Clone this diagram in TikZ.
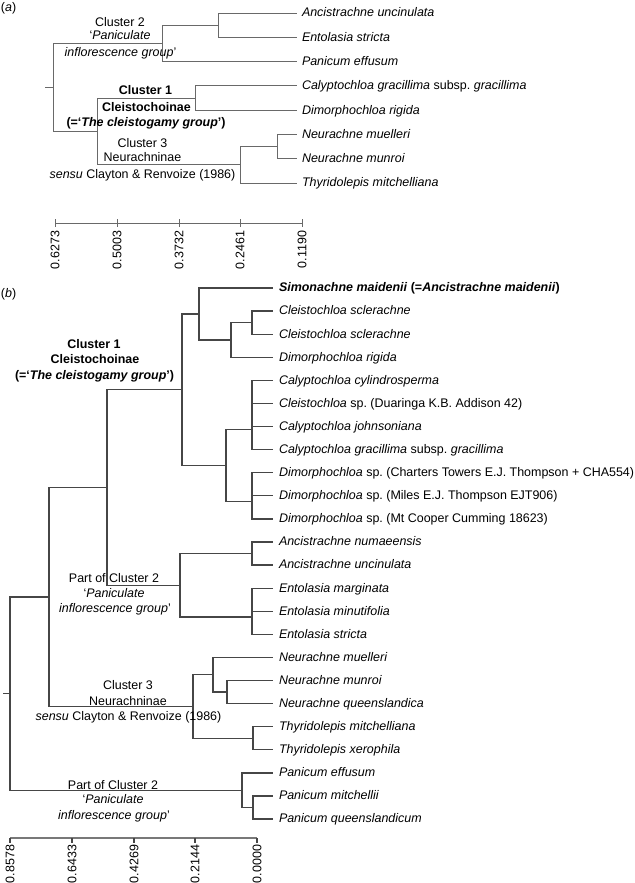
\documentclass[tikz,border=0pt]{standalone}
\usepackage{fontspec}
\setmainfont{Liberation Sans}
\definecolor{linea}{RGB}{105,105,105}
\definecolor{lineb}{RGB}{70,70,70}
\definecolor{axisb}{RGB}{120,120,120}
\begin{document}
\frenchspacing
\begin{tikzpicture}[x=0.75pt,y=-0.75pt,
  every node/.style={font=\fontsize{9.35}{11}\selectfont, inner sep=0pt, outer sep=0pt},
  leaf/.style={anchor=base west},
  lbl/.style={anchor=base},
  tick/.style={anchor=east, rotate=90},
  bra/.style={draw=linea, line width=0.75pt},
  brb/.style={draw=lineb, line width=1pt},
  axa/.style={draw=linea, line width=0.75pt},
  axb/.style={draw=axisb, line width=0.8pt},
  tkb/.style={draw=lineb, line width=0.8pt}]
\useasboundingbox (0,0) rectangle (635,883);

% ================= panel (a) =================
\node[anchor=base west] (pa) at (1,11) {(\textit{a})};

% leaf ends and labels
\coordinate (ea1) at (297,13.0);
\coordinate (ea2) at (297,37.3);
\coordinate (ea3) at (297,61.6);
\coordinate (ea4) at (297,85.9);
\coordinate (ea5) at (297,110.2);
\coordinate (ea6) at (297,134.5);
\coordinate (ea7) at (297,158.8);
\coordinate (ea8) at (297,183.1);
\node[leaf] (la1) at (302,16.8) {\textit{Ancistrachne uncinulata}};
\node[leaf] (la2) at (302,41.1) {\textit{Entolasia stricta}};
\node[leaf] (la3) at (302,65.4) {\textit{Panicum effusum}};
\node[leaf] (la4) at (302,89.7) {\textit{Calyptochloa gracillima} subsp. \textit{gracillima}};
\node[leaf] (la5) at (302,114.0) {\textit{Dimorphochloa rigida}};
\node[leaf] (la6) at (302,138.3) {\textit{Neurachne muelleri}};
\node[leaf] (la7) at (302,162.6) {\textit{Neurachne munroi}};
\node[leaf] (la8) at (302,186.9) {\textit{Thyridolepis mitchelliana}};

% internal nodes
\coordinate (aA12) at (218,25.2);
\coordinate (aC2) at (162,43.4);
\coordinate (aC1) at (195,98.0);
\coordinate (aN67) at (277,146.6);
\coordinate (aC3) at (240,164.9);
\coordinate (aC13) at (97,131.5);
\coordinate (aR) at (53,87.4);
\coordinate (aRs) at (45,87.4);

\draw[bra] (aA12) |- (ea1);
\draw[bra] (aA12) |- (ea2);
\draw[bra] (aC2) |- (aA12);
\draw[bra] (aC2) |- (ea3);
\draw[bra] (aC1) |- (ea4);
\draw[bra] (aC1) |- (ea5);
\draw[bra] (aN67) |- (ea6);
\draw[bra] (aN67) |- (ea7);
\draw[bra] (aC3) |- (aN67);
\draw[bra] (aC3) |- (ea8);
\draw[bra] (aC13) |- (aC1);
\draw[bra] (aC13) |- (aC3);
\draw[bra] (aR) |- (aC2);
\draw[bra] (aR) |- (aC13);
\draw[bra] (aRs) -- (aR);

% cluster labels (a)
\node[lbl] (a2l1) at (120,26) {Cluster 2};
\node[lbl] (a2l2) at (120,39) {‘\textit{Paniculate}};
\node[lbl] (a2l3) at (120.5,56) {\textit{inflorescence group}’};
\node[lbl] (a1l1) at (145.5,94) {\textbf{Cluster 1}};
\node[lbl] (a1l2) at (146.5,111) {\textbf{Cleistochoinae}};
\node[lbl] (a1l3) at (146,126) {\textbf{(=‘\textit{The cleistogamy group}’)}};
\node[lbl] (a3l1) at (142.5,147) {Cluster 3};
\node[lbl] (a3l2) at (142.5,161) {Neurachninae};
\node[lbl] (a3l3) at (142.5,178) {\textit{sensu} Clayton \& Renvoize (1986)};

% axis (a)
\coordinate (ax0) at (55,223);
\coordinate (ax1) at (117,223);
\coordinate (ax2) at (179,223);
\coordinate (ax3) at (240,223);
\coordinate (ax4) at (302,223);
\draw[axa] (ax0) -- (ax4);
\foreach \p in {ax0,ax1,ax2,ax3,ax4}
  \draw[axa] ([yshift=3pt]\p) -- ([yshift=-3pt]\p);
\node[tick] (ta0) at (55,231) {0.6273};
\node[tick] (ta1) at (117,231) {0.5003};
\node[tick] (ta2) at (179,231) {0.3732};
\node[tick] (ta3) at (240,231) {0.2461};
\node[tick] (ta4) at (302,231) {0.1190};

% ================= panel (b) =================
\node[anchor=base west] (pb) at (1,297) {(\textit{b})};

\foreach \i/\y in {0/288.00,1/311.09,2/334.18,3/357.27,4/380.36,5/403.45,6/426.54,7/449.63,8/472.72,9/495.81,10/518.90,11/541.99,12/565.08,13/588.17,14/611.26,15/634.35,16/657.44,17/680.53,18/703.62,19/726.71,20/749.80,21/772.89,22/795.98,23/819.07}
  \coordinate (eb\i) at (273,\y);

\node[leaf] (lb0) at (279,291.8) {\textbf{\textit{Simonachne maidenii} (=\textit{Ancistrachne maidenii})}};
\node[leaf] (lb1) at (279,314.9) {\textit{Cleistochloa sclerachne}};
\node[leaf] (lb2) at (279,338.0) {\textit{Cleistochloa sclerachne}};
\node[leaf] (lb3) at (279,361.1) {\textit{Dimorphochloa rigida}};
\node[leaf] (lb4) at (279,384.2) {\textit{Calyptochloa cylindrosperma}};
\node[leaf] (lb5) at (279,407.3) {\textit{Cleistochloa} sp. (Duaringa K.B. Addison 42)};
\node[leaf] (lb6) at (279,430.3) {\textit{Calyptochloa johnsoniana}};
\node[leaf] (lb7) at (279,453.4) {\textit{Calyptochloa gracillima} subsp. \textit{gracillima}};
\node[leaf] (lb8) at (279,476.5) {\textit{Dimorphochloa} sp. (Charters Towers E.J. Thompson + CHA554)};
\node[leaf] (lb9) at (279,499.6) {\textit{Dimorphochloa} sp. (Miles E.J. Thompson EJT906)};
\node[leaf] (lb10) at (279,522.7) {\textit{Dimorphochloa} sp. (Mt Cooper Cumming 18623)};
\node[leaf] (lb11) at (279,545.8) {\textit{Ancistrachne numaeensis}};
\node[leaf] (lb12) at (279,568.9) {\textit{Ancistrachne uncinulata}};
\node[leaf] (lb13) at (279,592.0) {\textit{Entolasia marginata}};
\node[leaf] (lb14) at (279,615.1) {\textit{Entolasia minutifolia}};
\node[leaf] (lb15) at (279,638.2) {\textit{Entolasia stricta}};
\node[leaf] (lb16) at (279,661.2) {\textit{Neurachne muelleri}};
\node[leaf] (lb17) at (279,684.3) {\textit{Neurachne munroi}};
\node[leaf] (lb18) at (279,707.4) {\textit{Neurachne queenslandica}};
\node[leaf] (lb19) at (279,730.5) {\textit{Thyridolepis mitchelliana}};
\node[leaf] (lb20) at (279,753.6) {\textit{Thyridolepis xerophila}};
\node[leaf] (lb21) at (279,776.7) {\textit{Panicum effusum}};
\node[leaf] (lb22) at (279,799.8) {\textit{Panicum mitchellii}};
\node[leaf] (lb23) at (279,822.9) {\textit{Panicum queenslandicum}};

% internal nodes (b)
\coordinate (bS12) at (252,322.63);
\coordinate (bS123) at (231,339.95);
\coordinate (bS0) at (199,313.98);
\coordinate (bP47) at (252,429.43);
\coordinate (bD810) at (252,501.58);
\coordinate (bCD) at (226,465.51);
\coordinate (bCL1) at (182,389.74);
\coordinate (bA1112) at (252,553.54);
\coordinate (bE1315) at (252,617.03);
\coordinate (bAE) at (180,585.28);
\coordinate (bX) at (107,487.51);
\coordinate (bN1718) at (227,692.08);
\coordinate (bN16) at (213,674.76);
\coordinate (bT1920) at (253,738.26);
\coordinate (bCL3) at (193,706.51);
\coordinate (bY) at (49,597.01);
\coordinate (bP2223) at (253,807.53);
\coordinate (bP21) at (242,790.21);
\coordinate (bR) at (10,693.61);
\coordinate (bRs) at (3,693.61);

\draw[brb] (bS12) |- (eb1);
\draw[brb] (bS12) |- (eb2);
\draw[brb] (bS123) |- (bS12);
\draw[brb] (bS123) |- (eb3);
\draw[brb] (bS0) |- (eb0);
\draw[brb] (bS0) |- (bS123);
\foreach \i in {4,5,6,7} \draw[brb] (bP47) |- (eb\i);
\foreach \i in {8,9,10} \draw[brb] (bD810) |- (eb\i);
\draw[brb] (bCD) |- (bP47);
\draw[brb] (bCD) |- (bD810);
\draw[brb] (bCL1) |- (bS0);
\draw[brb] (bCL1) |- (bCD);
\draw[brb] (bA1112) |- (eb11);
\draw[brb] (bA1112) |- (eb12);
\foreach \i in {13,14,15} \draw[brb] (bE1315) |- (eb\i);
\draw[brb] (bAE) |- (bA1112);
\draw[brb] (bAE) |- (bE1315);
\draw[brb] (bX) |- (bCL1);
\draw[brb] (bX) |- (bAE);
\draw[brb] (bN1718) |- (eb17);
\draw[brb] (bN1718) |- (eb18);
\draw[brb] (bN16) |- (eb16);
\draw[brb] (bN16) |- (bN1718);
\draw[brb] (bT1920) |- (eb19);
\draw[brb] (bT1920) |- (eb20);
\draw[brb] (bCL3) |- (bN16);
\draw[brb] (bCL3) |- (bT1920);
\draw[brb] (bY) |- (bX);
\draw[brb] (bY) |- (bCL3);
\draw[brb] (bP2223) |- (eb22);
\draw[brb] (bP2223) |- (eb23);
\draw[brb] (bP21) |- (eb21);
\draw[brb] (bP21) |- (bP2223);
\draw[brb] (bR) |- (bY);
\draw[brb] (bR) |- (bP21);
\draw[brb] (bRs) -- (bR);

% cluster labels (b)
\node[lbl] (b1l1) at (94,348) {\textbf{Cluster 1}};
\node[lbl] (b1l2) at (95,363) {\textbf{Cleistochoinae}};
\node[lbl] (b1l3) at (94.5,379) {\textbf{(=‘\textit{The cleistogamy group}’)}};
\node[lbl] (b2l1) at (114,582) {Part of Cluster 2};
\node[lbl] (b2l2) at (114,597) {‘\textit{Paniculate}};
\node[lbl] (b2l3) at (115,612) {\textit{inflorescence group}’};
\node[lbl] (b3l1) at (128,689) {Cluster 3};
\node[lbl] (b3l2) at (128,705) {Neurachninae};
\node[lbl] (b3l3) at (128.5,720) {\textit{sensu} Clayton \& Renvoize (1986)};
\node[lbl] (b4l1) at (113,789) {Part of Cluster 2};
\node[lbl] (b4l2) at (113,803) {‘\textit{Paniculate}};
\node[lbl] (b4l3) at (114,819) {\textit{inflorescence group}’};

% axis (b)
\coordinate (bx0) at (10,838);
\coordinate (bx1) at (72,838);
\coordinate (bx2) at (134,838);
\coordinate (bx3) at (195,838);
\coordinate (bx4) at (257,838);
\draw[axb] (bx0) -- (bx4);
\foreach \p in {bx0,bx1,bx2,bx3,bx4}
  \draw[tkb] (\p) -- ([yshift=-4pt]\p);
\node[tick] (tb0) at (10,845) {0.8578};
\node[tick] (tb1) at (72,845) {0.6433};
\node[tick] (tb2) at (134,845) {0.4269};
\node[tick] (tb3) at (195,845) {0.2144};
\node[tick] (tb4) at (257,845) {0.0000};
\end{tikzpicture}
\end{document}
